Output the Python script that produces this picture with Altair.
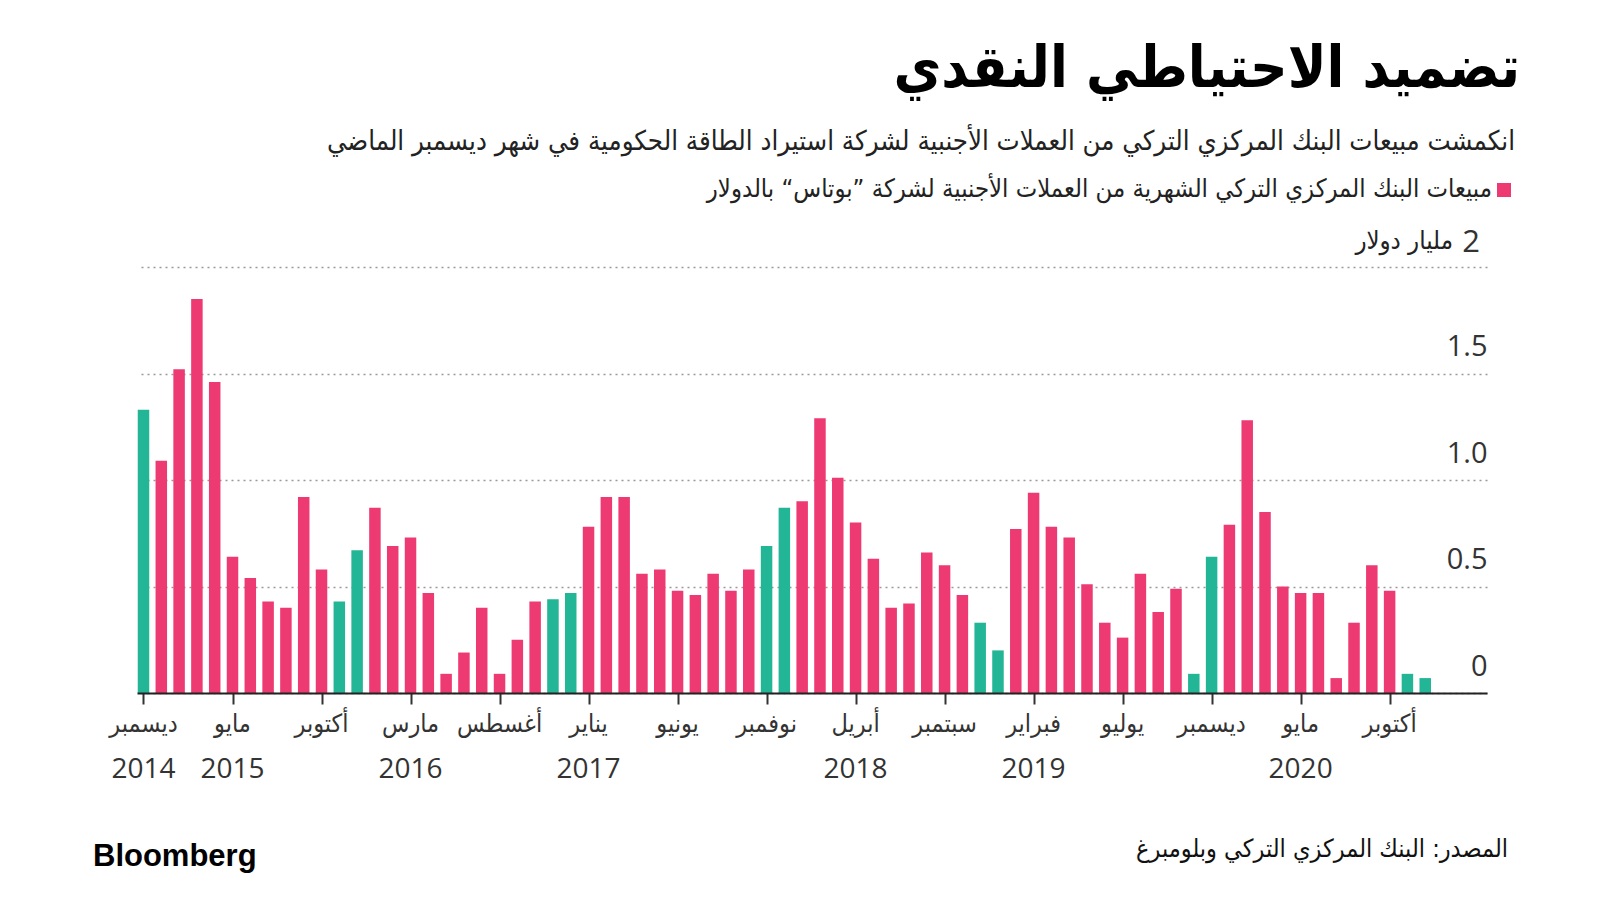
import altair as alt
import pandas as pd

# ---- data (Dec 2014 .. Dec 2020), billion USD ----
month_index = list(range(73))
sales = [1.33, 1.09, 1.52, 1.85, 1.46, 0.64, 0.54, 0.43, 0.40, 0.92,
         0.58, 0.43, 0.67, 0.87, 0.69, 0.73, 0.47, 0.09, 0.19, 0.40,
         0.09, 0.25, 0.43, 0.44, 0.47, 0.78, 0.92, 0.92, 0.56, 0.58,
         0.48, 0.46, 0.56, 0.48, 0.58, 0.69, 0.87, 0.90, 1.29, 1.01,
         0.80, 0.63, 0.40, 0.42, 0.66, 0.60, 0.46, 0.33, 0.20, 0.77,
         0.94, 0.78, 0.73, 0.51, 0.33, 0.26, 0.56, 0.38, 0.49, 0.09,
         0.64, 0.79, 1.28, 0.85, 0.50, 0.47, 0.47, 0.07, 0.33, 0.60,
         0.48, 0.09, 0.07]
# 1 = November / December bars (green)
highlight = [1, 0, 0, 0, 0, 0, 0, 0, 0, 0, 0, 1, 1, 0, 0, 0, 0, 0, 0, 0,
             0, 0, 0, 1, 1, 0, 0, 0, 0, 0, 0, 0, 0, 0, 0, 1, 1, 0, 0, 0,
             0, 0, 0, 0, 0, 0, 0, 1, 1, 0, 0, 0, 0, 0, 0, 0, 0, 0, 0, 1,
             1, 0, 0, 0, 0, 0, 0, 0, 0, 0, 0, 1, 1]

tick_index = [0, 5, 10, 15, 20, 25, 30, 35, 40, 45, 50, 55, 60, 65, 70]
tick_months = ["ديسمبر", "مايو", "أكتوبر", "مارس", "أغسطس", "يناير", "يونيو",
               "نوفمبر", "أبريل", "سبتمبر", "فبراير", "يوليو", "ديسمبر",
               "مايو", "أكتوبر"]
year_index = [0, 5, 15, 25, 40, 50, 65]
year_labels = ["2014", "2015", "2016", "2017", "2018", "2019", "2020"]
y_ticks = [0, 0.5, 1.0, 1.5, 2.0]

title_text = "تضميد الاحتياطي النقدي"
subtitle_text = "انكمشت مبيعات البنك المركزي التركي من العملات الأجنبية لشركة استيراد الطاقة الحكومية في شهر ديسمبر الماضي"
legend_text = "مبيعات البنك المركزي التركي الشهرية من العملات الأجنبية لشركة ”بوتاس“ بالدولار"
unit_text = "مليار دولار"
source_text = "المصدر: البنك المركزي التركي وبلومبرغ"

PINK = "#ee3a73"
GREEN = "#22b596"
AR_FONT = "DejaVu Sans Condensed, DejaVu Sans"
NUM_FONT = "Open Sans"

df = pd.DataFrame({"i": month_index, "v": sales,
                   "h": ["g" if h else "p" for h in highlight]})

xscale = alt.Scale(domain=[-0.365, 75.47], nice=False, zero=False, padding=0)
yscale = alt.Scale(domain=[0, 2], nice=False, padding=0)
x_axis = alt.Axis(values=tick_index, labels=False, grid=False, title=None,
                  domainColor="#222", domainWidth=2, tickColor="#333",
                  tickWidth=2, tickSize=11, zindex=1)

bars = alt.Chart(df).mark_bar(size=11.5).encode(
    x=alt.X("i:Q", scale=xscale, axis=x_axis),
    y=alt.Y("v:Q", scale=yscale,
            axis=alt.Axis(orient="right", values=y_ticks, title=None, domain=False,
                          ticks=False, tickSize=0, grid=True, gridDash=[2, 4],
                          gridColor="#9a9a9a", gridWidth=1.5,
                          labelExpr="datum.value == 2 ? '' : (datum.value == 0 ? '0' : format(datum.value, '.1f'))",
                          labelAlign="right", labelPadding=0, labelBaseline="alphabetic",
                          labelOffset=-18, labelFontSize=29, labelFont=NUM_FONT,
                          labelColor="#333")),
    color=alt.Color("h:N", scale=alt.Scale(domain=["p", "g"], range=[PINK, GREEN]),
                    legend=None),
)

months = alt.Chart(pd.DataFrame({"i": tick_index, "m": tick_months})).mark_text(
    font=AR_FONT, fontSize=25, color="#333", align="center", baseline="alphabetic"
).encode(x=alt.X("i:Q", scale=xscale, axis=x_axis), y=alt.value(465), text="m:N")

years = alt.Chart(pd.DataFrame({"i": year_index, "yr": year_labels})).mark_text(
    font=NUM_FONT, fontSize=28, color="#333", align="center", baseline="alphabetic"
).encode(x=alt.X("i:Q", scale=xscale, axis=x_axis), y=alt.value(511), text="yr:N")


def label(text, x, y, size, font=AR_FONT, weight="normal", color="#222", align="right"):
    return alt.Chart(alt.Data(values=[{}])).mark_text(
        font=font, fontSize=size, fontWeight=weight, color=color, align=align,
        baseline="alphabetic"
    ).encode(x=alt.value(x), y=alt.value(y), text=alt.value(text))


title = label(title_text, 1383, -180, 58, weight="bold", color="#000")
subtitle = label(subtitle_text, 1378, -117, 27.3, color="#222")
legend_lbl = label(legend_text, 1355, -70, 25.4, color="#222")
legend_sq = alt.Chart(alt.Data(values=[{}])).mark_rect(color=PINK).encode(
    x=alt.value(1360), x2=alt.value(1374), y=alt.value(-84), y2=alt.value(-70))
unit_lbl = label(unit_text, 1316, -18, 25.5, color="#222")
two_lbl = label("2", 1343, -15, 31, font=NUM_FONT, color="#333")
source = label(source_text, 1371, 590, 25, color="#111")
logo = label("Bloomberg", -44, 599, 31, font="Liberation Sans", weight="bold",
             color="#000", align="left")

chart = alt.layer(
    bars, months, years, title, subtitle, legend_lbl, legend_sq, unit_lbl,
    two_lbl, source, logo
).properties(
    width=1350, height=426,
    padding={"left": 129, "top": 259, "right": 105, "bottom": 190},
    autosize=alt.AutoSizeParams(type="none"),
    background="white",
).configure_view(stroke=None)

chart.save("out.html", embed_options={"renderer": "svg", "actions": False})
